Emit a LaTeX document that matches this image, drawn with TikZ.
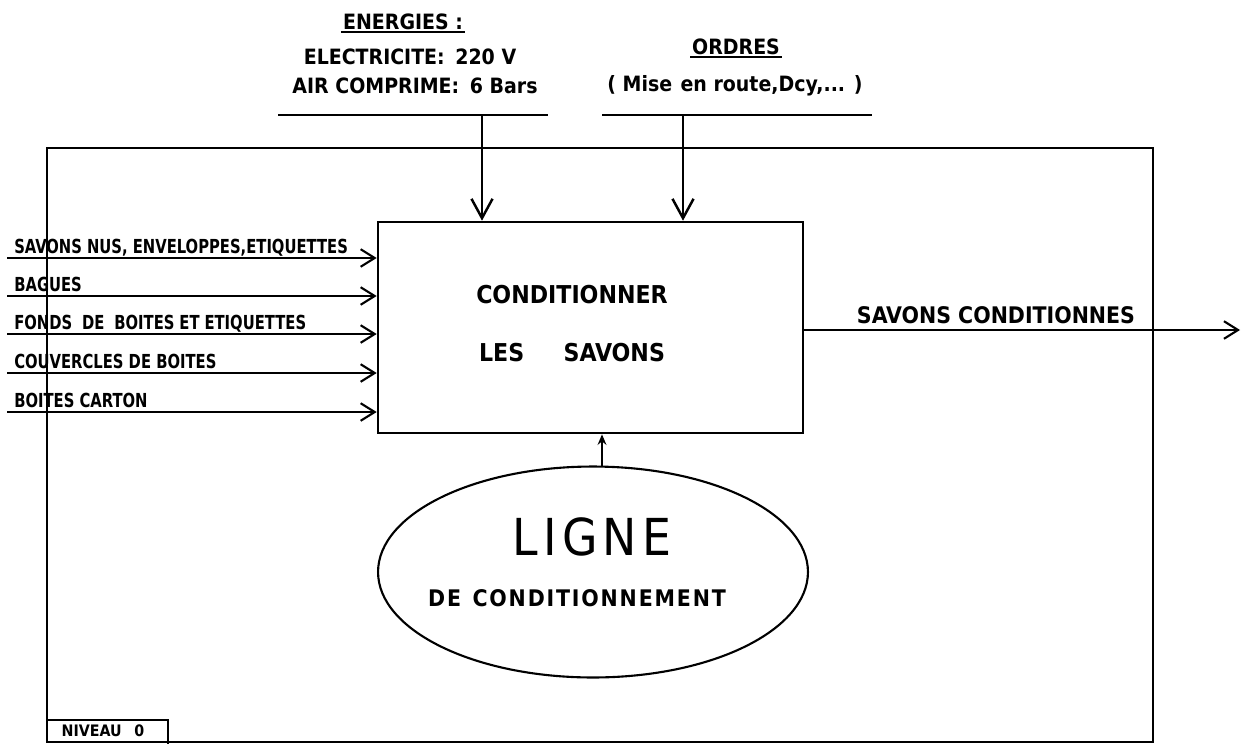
\documentclass[tikz,border=0pt]{standalone}
\usepackage{fontspec}
\usetikzlibrary{arrows.meta,shapes.geometric,fit}
\newfontfamily\lblfont{DejaVu Sans Condensed Bold}
\newfontfamily\lblwide{DejaVu Sans Condensed Bold}[LetterSpace=8]
\newfontfamily\thinfont{DejaVu Sans Condensed}[LetterSpace=10]
\newfontfamily\midfont{DejaVu Sans Condensed Bold}
\tikzset{
  frameline/.style={line width=1.5pt},
  flow/.style={line width=1.2pt,-{Straight Barb[length=8pt,width=10pt,line width=1.2pt]}},
  bigflow/.style={line width=1.2pt,-{Straight Barb[length=11pt,width=12pt,line width=1.4pt]}},
  supflow/.style={line width=1.2pt,-{Stealth[length=6pt,width=5pt]}},
  thinline/.style={line width=1pt},
  inlabel/.style={font=\lblfont\fontsize{11}{12}\selectfont,anchor=base west,inner sep=0pt,xscale=0.85},
  toplabel/.style={font=\midfont\fontsize{12}{13}\selectfont,inner sep=1pt},
  boxtext/.style={font=\midfont\fontsize{14}{15}\selectfont,inner sep=0pt},
}
\begin{document}
\begin{tikzpicture}[x=0.02cm,y=-0.02cm]
\useasboundingbox (0,0) rectangle (1243,744);
% outer frame
\coordinate (f1) at (47,148);
\coordinate (f2) at (1153,742);
\node[fit=(f1)(f2),inner sep=0pt,draw,frameline] (frame) {};
% main box
\coordinate (b1) at (378,222);
\coordinate (b2) at (803,433);
\node[fit=(b1)(b2),inner sep=0pt,draw,frameline] (box) {};
\node[boxtext] (t1) at (572,295) {CONDITIONNER};
\node[boxtext] (t2) at (572,353) {LES\hspace{1.6em}SAVONS};
% ellipse
\node[ellipse,draw,line width=1.2pt,minimum width=8.6cm,minimum height=4.22cm,inner sep=0pt] (ell) at (593,572) {};
\node[font=\thinfont\fontsize{29}{30}\selectfont,inner sep=0pt] (l1) at (592,537) {LIGNE};
\node[font=\lblwide\fontsize{13}{14}\selectfont,inner sep=0pt] (l2) at (577,598) {DE\hspace{0.5em}CONDITIONNEMENT};
\coordinate (sup) at (602,467);
\draw[supflow] (sup) -- (sup |- box.south);
% energies
\node[toplabel] (en) at (403,22) {ENERGIES :};
\draw[thinline] (en.south west) -- (en.south east);
\node[toplabel] (el) at (410,57) {ELECTRICITE:\hspace{0.5em}220 V};
\node[toplabel] (ai) at (415,86) {AIR COMPRIME:\hspace{0.5em}6 Bars};
\coordinate (eL) at (278,115);
\coordinate (eR) at (548,115);
\coordinate (eA) at (482,115);
\draw[thinline] (eL) -- (eR);
\draw[bigflow] (eA) -- (eA |- box.north);
% ordres
\node[toplabel] (or) at (736,47) {ORDRES};
\draw[thinline] (or.south west) -- (or.south east);
\node[toplabel] (mi) at (735,86) {( Mise\hspace{0.4em}en route,Dcy,... )};
\coordinate (oL) at (602,115);
\coordinate (oR) at (872,115);
\coordinate (oA) at (683,115);
\draw[thinline] (oL) -- (oR);
\draw[bigflow] (oA) -- (oA |- box.north);
% inputs
\foreach \i/\y/\txt in {1/258/{SAVONS NUS, ENVELOPPES,ETIQUETTES},2/296/{BAGUES},3/334/{FONDS\hspace{0.6em}DE\hspace{0.6em}BOITES\hspace{0.3em}ET\hspace{0.3em}ETIQUETTES},4/373/{COUVERCLES DE BOITES},5/412/{BOITES CARTON}}{
  \coordinate (in\i) at (7,\y);
  \node[inlabel] (lab\i) at (14,\y-5) {\txt};
  \draw[flow] (in\i) -- (in\i -| box.west);
}
% output
\coordinate (out) at (1240,330);
\node[font=\midfont\fontsize{13}{14}\selectfont,inner sep=0pt] (outlab) at (996,315) {SAVONS CONDITIONNES};
\draw[flow] (box.east |- out) -- (out);
% niveau
\coordinate (n1) at (47,720);
\coordinate (n2) at (168,744);
\draw[frameline] (n1) -| (n2);
\node[font=\lblfont\fontsize{9}{10}\selectfont,inner sep=0pt] (niv) at (103,731) {NIVEAU\hspace{0.8em}0};
\end{tikzpicture}
\end{document}
